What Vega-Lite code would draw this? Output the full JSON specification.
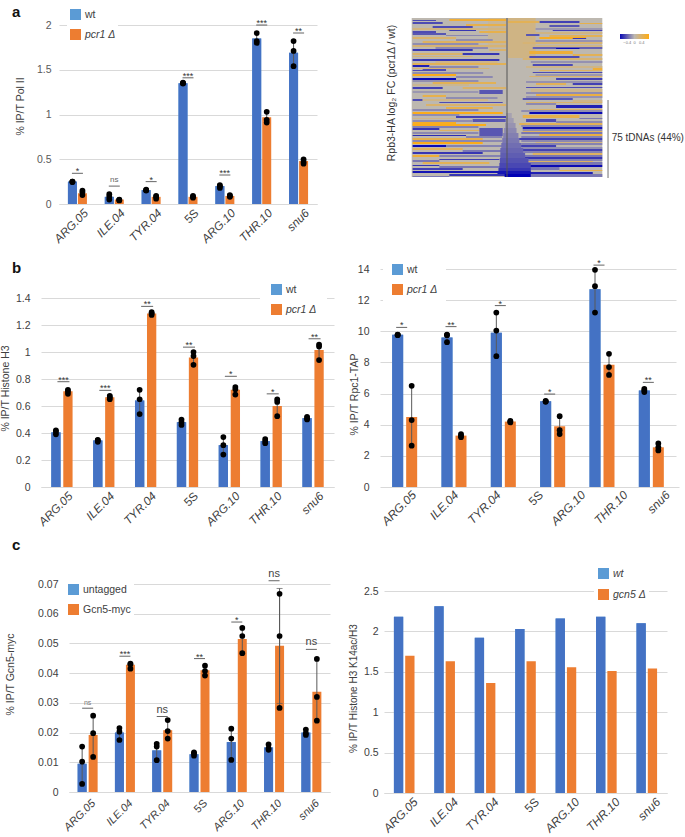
{"$schema":"https://vega.github.io/schema/vega-lite/v6.json","padding":{"left":0,"top":5,"right":0,"bottom":0},"background":"white","config":{"font":"Liberation Sans","view":{"stroke":null}},"columns":2,"align":"each","bounds":"flush","spacing":{"row":60,"column":46},"resolve":{"scale":{"color":"independent"},"legend":{"color":"independent"}},
"datasets":{
"aB":[{"s":"ARG.05","g":"wt","v":0.25},{"s":"ILE.04","g":"wt","v":0.08},{"s":"TYR.04","g":"wt","v":0.155},{"s":"5S","g":"wt","v":1.35},{"s":"ARG.10","g":"wt","v":0.2},{"s":"THR.10","g":"wt","v":1.85},{"s":"snu6","g":"wt","v":1.69},{"s":"ARG.05","g":"pcr1 Δ","v":0.12},{"s":"ILE.04","g":"pcr1 Δ","v":0.05},{"s":"TYR.04","g":"pcr1 Δ","v":0.08},{"s":"5S","g":"pcr1 Δ","v":0.08},{"s":"ARG.10","g":"pcr1 Δ","v":0.09},{"s":"THR.10","g":"pcr1 Δ","v":0.97},{"s":"snu6","g":"pcr1 Δ","v":0.48}],
"aD":[{"s":"ARG.05","g":"wt","v":0.245},{"s":"ARG.05","g":"wt","v":0.25},{"s":"ARG.05","g":"wt","v":0.25},{"s":"ILE.04","g":"wt","v":0.05},{"s":"ILE.04","g":"wt","v":0.08},{"s":"ILE.04","g":"wt","v":0.11},{"s":"TYR.04","g":"wt","v":0.15},{"s":"TYR.04","g":"wt","v":0.155},{"s":"TYR.04","g":"wt","v":0.16},{"s":"5S","g":"wt","v":1.345},{"s":"5S","g":"wt","v":1.35},{"s":"5S","g":"wt","v":1.355},{"s":"ARG.10","g":"wt","v":0.18},{"s":"ARG.10","g":"wt","v":0.2},{"s":"ARG.10","g":"wt","v":0.21},{"s":"THR.10","g":"wt","v":1.8},{"s":"THR.10","g":"wt","v":1.82},{"s":"THR.10","g":"wt","v":1.91},{"s":"snu6","g":"wt","v":1.54},{"s":"snu6","g":"wt","v":1.71},{"s":"snu6","g":"wt","v":1.82},{"s":"ARG.05","g":"pcr1 Δ","v":0.1},{"s":"ARG.05","g":"pcr1 Δ","v":0.13},{"s":"ARG.05","g":"pcr1 Δ","v":0.15},{"s":"ILE.04","g":"pcr1 Δ","v":0.04},{"s":"ILE.04","g":"pcr1 Δ","v":0.045},{"s":"ILE.04","g":"pcr1 Δ","v":0.05},{"s":"TYR.04","g":"pcr1 Δ","v":0.06},{"s":"TYR.04","g":"pcr1 Δ","v":0.08},{"s":"TYR.04","g":"pcr1 Δ","v":0.09},{"s":"5S","g":"pcr1 Δ","v":0.07},{"s":"5S","g":"pcr1 Δ","v":0.08},{"s":"5S","g":"pcr1 Δ","v":0.09},{"s":"ARG.10","g":"pcr1 Δ","v":0.08},{"s":"ARG.10","g":"pcr1 Δ","v":0.09},{"s":"ARG.10","g":"pcr1 Δ","v":0.1},{"s":"THR.10","g":"pcr1 Δ","v":0.91},{"s":"THR.10","g":"pcr1 Δ","v":0.94},{"s":"THR.10","g":"pcr1 Δ","v":1.03},{"s":"snu6","g":"pcr1 Δ","v":0.45},{"s":"snu6","g":"pcr1 Δ","v":0.47},{"s":"snu6","g":"pcr1 Δ","v":0.5}],
"aS":[{"s":"ARG.05","v":0.343,"t":"*"},{"s":"ILE.04","v":0.2,"t":"ns"},{"s":"TYR.04","v":0.25,"t":"*"},{"s":"5S","v":1.41,"t":"***"},{"s":"ARG.10","v":0.324,"t":"***"},{"s":"THR.10","v":2.0,"t":"***"},{"s":"snu6","v":1.91,"t":"**"}],
"bB":[{"s":"ARG.05","g":"wt","v":0.405},{"s":"ILE.04","g":"wt","v":0.345},{"s":"TYR.04","g":"wt","v":0.64},{"s":"5S","g":"wt","v":0.48},{"s":"ARG.10","g":"wt","v":0.31},{"s":"THR.10","g":"wt","v":0.34},{"s":"snu6","g":"wt","v":0.51},{"s":"ARG.05","g":"pcr1 Δ","v":0.71},{"s":"ILE.04","g":"pcr1 Δ","v":0.665},{"s":"TYR.04","g":"pcr1 Δ","v":1.285},{"s":"5S","g":"pcr1 Δ","v":0.96},{"s":"ARG.10","g":"pcr1 Δ","v":0.72},{"s":"THR.10","g":"pcr1 Δ","v":0.6},{"s":"snu6","g":"pcr1 Δ","v":1.015}],
"bD":[{"s":"ARG.05","g":"wt","v":0.39},{"s":"ARG.05","g":"wt","v":0.41},{"s":"ARG.05","g":"wt","v":0.42},{"s":"ILE.04","g":"wt","v":0.335},{"s":"ILE.04","g":"wt","v":0.345},{"s":"ILE.04","g":"wt","v":0.35},{"s":"TYR.04","g":"wt","v":0.54},{"s":"TYR.04","g":"wt","v":0.65},{"s":"TYR.04","g":"wt","v":0.72},{"s":"5S","g":"wt","v":0.46},{"s":"5S","g":"wt","v":0.48},{"s":"5S","g":"wt","v":0.5},{"s":"ARG.10","g":"wt","v":0.24},{"s":"ARG.10","g":"wt","v":0.31},{"s":"ARG.10","g":"wt","v":0.37},{"s":"THR.10","g":"wt","v":0.325},{"s":"THR.10","g":"wt","v":0.34},{"s":"THR.10","g":"wt","v":0.355},{"s":"snu6","g":"wt","v":0.5},{"s":"snu6","g":"wt","v":0.51},{"s":"snu6","g":"wt","v":0.52},{"s":"ARG.05","g":"pcr1 Δ","v":0.69},{"s":"ARG.05","g":"pcr1 Δ","v":0.71},{"s":"ARG.05","g":"pcr1 Δ","v":0.72},{"s":"ILE.04","g":"pcr1 Δ","v":0.65},{"s":"ILE.04","g":"pcr1 Δ","v":0.665},{"s":"ILE.04","g":"pcr1 Δ","v":0.675},{"s":"TYR.04","g":"pcr1 Δ","v":1.275},{"s":"TYR.04","g":"pcr1 Δ","v":1.285},{"s":"TYR.04","g":"pcr1 Δ","v":1.295},{"s":"5S","g":"pcr1 Δ","v":0.905},{"s":"5S","g":"pcr1 Δ","v":0.97},{"s":"5S","g":"pcr1 Δ","v":1.0},{"s":"ARG.10","g":"pcr1 Δ","v":0.685},{"s":"ARG.10","g":"pcr1 Δ","v":0.725},{"s":"ARG.10","g":"pcr1 Δ","v":0.74},{"s":"THR.10","g":"pcr1 Δ","v":0.525},{"s":"THR.10","g":"pcr1 Δ","v":0.63},{"s":"THR.10","g":"pcr1 Δ","v":0.65},{"s":"snu6","g":"pcr1 Δ","v":0.94},{"s":"snu6","g":"pcr1 Δ","v":1.04},{"s":"snu6","g":"pcr1 Δ","v":1.055}],
"bS":[{"s":"ARG.05","v":0.78,"t":"***"},{"s":"ILE.04","v":0.716,"t":"***"},{"s":"TYR.04","v":1.338,"t":"**"},{"s":"5S","v":1.036,"t":"**"},{"s":"ARG.10","v":0.82,"t":"*"},{"s":"THR.10","v":0.69,"t":"*"},{"s":"snu6","v":1.098,"t":"**"}],
"rB":[{"s":"ARG.05","g":"wt","v":9.77},{"s":"ILE.04","g":"wt","v":9.6},{"s":"TYR.04","g":"wt","v":9.9},{"s":"ARG.10","g":"wt","v":5.5},{"s":"THR.10","g":"wt","v":12.7},{"s":"snu6","g":"wt","v":6.2},{"s":"ARG.05","g":"pcr1 Δ","v":4.5},{"s":"ILE.04","g":"pcr1 Δ","v":3.3},{"s":"TYR.04","g":"pcr1 Δ","v":4.2},{"s":"ARG.10","g":"pcr1 Δ","v":3.9},{"s":"THR.10","g":"pcr1 Δ","v":7.85},{"s":"snu6","g":"pcr1 Δ","v":2.55}],
"rD":[{"s":"ARG.05","g":"wt","v":9.75},{"s":"ARG.05","g":"wt","v":9.77},{"s":"ARG.05","g":"wt","v":9.79},{"s":"ILE.04","g":"wt","v":9.3},{"s":"ILE.04","g":"wt","v":9.75},{"s":"ILE.04","g":"wt","v":9.78},{"s":"TYR.04","g":"wt","v":8.4},{"s":"TYR.04","g":"wt","v":10.05},{"s":"TYR.04","g":"wt","v":11.2},{"s":"ARG.10","g":"wt","v":5.47},{"s":"ARG.10","g":"wt","v":5.5},{"s":"ARG.10","g":"wt","v":5.53},{"s":"THR.10","g":"wt","v":11.2},{"s":"THR.10","g":"wt","v":12.9},{"s":"THR.10","g":"wt","v":13.95},{"s":"snu6","g":"wt","v":6.1},{"s":"snu6","g":"wt","v":6.2},{"s":"snu6","g":"wt","v":6.3},{"s":"ARG.05","g":"pcr1 Δ","v":2.65},{"s":"ARG.05","g":"pcr1 Δ","v":4.3},{"s":"ARG.05","g":"pcr1 Δ","v":6.5},{"s":"ILE.04","g":"pcr1 Δ","v":3.2},{"s":"ILE.04","g":"pcr1 Δ","v":3.3},{"s":"ILE.04","g":"pcr1 Δ","v":3.4},{"s":"TYR.04","g":"pcr1 Δ","v":4.15},{"s":"TYR.04","g":"pcr1 Δ","v":4.2},{"s":"TYR.04","g":"pcr1 Δ","v":4.25},{"s":"ARG.10","g":"pcr1 Δ","v":3.4},{"s":"ARG.10","g":"pcr1 Δ","v":3.65},{"s":"ARG.10","g":"pcr1 Δ","v":4.55},{"s":"THR.10","g":"pcr1 Δ","v":7.2},{"s":"THR.10","g":"pcr1 Δ","v":7.7},{"s":"THR.10","g":"pcr1 Δ","v":8.55},{"s":"snu6","g":"pcr1 Δ","v":2.35},{"s":"snu6","g":"pcr1 Δ","v":2.55},{"s":"snu6","g":"pcr1 Δ","v":2.8}],
"rS":[{"s":"ARG.05","v":10.25,"t":"*"},{"s":"ILE.04","v":10.3,"t":"**"},{"s":"TYR.04","v":11.65,"t":"*"},{"s":"ARG.10","v":5.97,"t":"*"},{"s":"THR.10","v":14.25,"t":"*"},{"s":"snu6","v":6.72,"t":"**"}],
"rL":[{"s":"ARG.05"},{"s":"ILE.04"},{"s":"TYR.04"},{"s":"5S"},{"s":"ARG.10"},{"s":"THR.10"},{"s":"snu6"}],
"cB":[{"s":"ARG.05","g":"untagged","v":0.0095},{"s":"ILE.04","g":"untagged","v":0.02},{"s":"TYR.04","g":"untagged","v":0.014},{"s":"5S","g":"untagged","v":0.0127},{"s":"ARG.10","g":"untagged","v":0.0168},{"s":"THR.10","g":"untagged","v":0.015},{"s":"snu6","g":"untagged","v":0.02},{"s":"ARG.05","g":"Gcn5-myc","v":0.0192},{"s":"ILE.04","g":"Gcn5-myc","v":0.0428},{"s":"TYR.04","g":"Gcn5-myc","v":0.0208},{"s":"5S","g":"Gcn5-myc","v":0.041},{"s":"ARG.10","g":"Gcn5-myc","v":0.0515},{"s":"THR.10","g":"Gcn5-myc","v":0.0492},{"s":"snu6","g":"Gcn5-myc","v":0.0337}],
"cD":[{"s":"ARG.05","g":"untagged","v":0.0027},{"s":"ARG.05","g":"untagged","v":0.0102},{"s":"ARG.05","g":"untagged","v":0.0153},{"s":"ILE.04","g":"untagged","v":0.0175},{"s":"ILE.04","g":"untagged","v":0.0203},{"s":"ILE.04","g":"untagged","v":0.0215},{"s":"TYR.04","g":"untagged","v":0.0107},{"s":"TYR.04","g":"untagged","v":0.0153},{"s":"TYR.04","g":"untagged","v":0.0162},{"s":"5S","g":"untagged","v":0.0122},{"s":"5S","g":"untagged","v":0.013},{"s":"5S","g":"untagged","v":0.0133},{"s":"ARG.10","g":"untagged","v":0.0108},{"s":"ARG.10","g":"untagged","v":0.018},{"s":"ARG.10","g":"untagged","v":0.0213},{"s":"THR.10","g":"untagged","v":0.0142},{"s":"THR.10","g":"untagged","v":0.0147},{"s":"THR.10","g":"untagged","v":0.016},{"s":"snu6","g":"untagged","v":0.0192},{"s":"snu6","g":"untagged","v":0.0198},{"s":"snu6","g":"untagged","v":0.021},{"s":"ARG.05","g":"Gcn5-myc","v":0.0118},{"s":"ARG.05","g":"Gcn5-myc","v":0.0198},{"s":"ARG.05","g":"Gcn5-myc","v":0.0257},{"s":"ILE.04","g":"Gcn5-myc","v":0.0415},{"s":"ILE.04","g":"Gcn5-myc","v":0.043},{"s":"ILE.04","g":"Gcn5-myc","v":0.0432},{"s":"TYR.04","g":"Gcn5-myc","v":0.018},{"s":"TYR.04","g":"Gcn5-myc","v":0.0205},{"s":"TYR.04","g":"Gcn5-myc","v":0.0242},{"s":"5S","g":"Gcn5-myc","v":0.0392},{"s":"5S","g":"Gcn5-myc","v":0.0407},{"s":"5S","g":"Gcn5-myc","v":0.0425},{"s":"ARG.10","g":"Gcn5-myc","v":0.0467},{"s":"ARG.10","g":"Gcn5-myc","v":0.0525},{"s":"ARG.10","g":"Gcn5-myc","v":0.0552},{"s":"THR.10","g":"Gcn5-myc","v":0.0283},{"s":"THR.10","g":"Gcn5-myc","v":0.0525},{"s":"THR.10","g":"Gcn5-myc","v":0.0667},{"s":"snu6","g":"Gcn5-myc","v":0.024},{"s":"snu6","g":"Gcn5-myc","v":0.032},{"s":"snu6","g":"Gcn5-myc","v":0.0448}],
"cS":[{"s":"ARG.05","v":0.0282,"t":"ns"},{"s":"ILE.04","v":0.0457,"t":"***"},{"s":"TYR.04","v":0.0254,"t":"ns"},{"s":"5S","v":0.0449,"t":"**"},{"s":"ARG.10","v":0.0572,"t":"*"},{"s":"THR.10","v":0.0711,"t":"ns"},{"s":"snu6","v":0.048,"t":"ns"}],
"cE":[{"s":"THR.10","lo":0.0298,"hi":0.0685}],
"dB":[{"s":"ARG.05","g":"wt","v":2.18},{"s":"ILE.04","g":"wt","v":2.31},{"s":"TYR.04","g":"wt","v":1.92},{"s":"5S","g":"wt","v":2.03},{"s":"ARG.10","g":"wt","v":2.16},{"s":"THR.10","g":"wt","v":2.18},{"s":"snu6","g":"wt","v":2.1},{"s":"ARG.05","g":"gcn5 Δ","v":1.7},{"s":"ILE.04","g":"gcn5 Δ","v":1.63},{"s":"TYR.04","g":"gcn5 Δ","v":1.36},{"s":"5S","g":"gcn5 Δ","v":1.63},{"s":"ARG.10","g":"gcn5 Δ","v":1.555},{"s":"THR.10","g":"gcn5 Δ","v":1.51},{"s":"snu6","g":"gcn5 Δ","v":1.54}],
"heat":[{"r":0,"e":159,"a":-200,"b":200,"v":0},
{"r":0,"e":40,"a":2,"b":60,"v":0.22},{"r":0,"e":30,"a":-40,"b":-2,"v":0.12},
{"r":1,"e":3,"a":-121,"b":-2,"v":0.6},{"r":2,"e":3,"a":-198,"b":-149,"v":-0.5},{"r":4,"e":6,"a":-198,"b":-135,"v":-0.5},{"r":6,"e":8,"a":-86,"b":-2,"v":0.5},{"r":8,"e":10,"a":-156,"b":-72,"v":-0.5},{"r":10,"e":12,"a":-198,"b":-2,"v":0.25},{"r":12,"e":13,"a":-121,"b":-65,"v":-0.6},{"r":13,"e":15,"a":-198,"b":-149,"v":-0.5},{"r":13,"e":15,"a":-58,"b":-2,"v":0.5},{"r":15,"e":17,"a":-198,"b":-128,"v":-0.45},{"r":17,"e":18,"a":-128,"b":-40,"v":-0.22},{"r":19,"e":21,"a":-198,"b":-107,"v":0.35},{"r":21,"e":23,"a":-107,"b":-30,"v":-0.2},{"r":23,"e":25,"a":-177,"b":-2,"v":0.4},{"r":25,"e":27,"a":-198,"b":-60,"v":-0.2},{"r":27,"e":29,"a":-198,"b":-2,"v":0.3},{"r":29,"e":31,"a":-150,"b":-40,"v":-0.22},{"r":31,"e":33,"a":-198,"b":-72,"v":-0.6},{"r":31,"e":33,"a":-37,"b":-2,"v":0.35},{"r":35,"e":37,"a":-198,"b":-93,"v":0.35},{"r":35,"e":37,"a":-93,"b":-16,"v":-0.6},{"r":38,"e":39,"a":-198,"b":-72,"v":0.3},{"r":41,"e":43,"a":-198,"b":-16,"v":-0.6},{"r":43,"e":45,"a":-150,"b":-20,"v":0.2},{"r":45,"e":47,"a":-198,"b":-2,"v":0.45},{"r":47,"e":49,"a":-198,"b":-163,"v":-0.7},{"r":48,"e":50,"a":-163,"b":-60,"v":-0.22},{"r":50,"e":51,"a":-198,"b":-37,"v":0.3},{"r":51,"e":53,"a":-177,"b":-128,"v":-0.5},
{"r":3,"e":5,"a":68,"b":152,"v":-0.55},{"r":3,"e":5,"a":2,"b":68,"v":0.45},{"r":5,"e":6,"a":152,"b":200,"v":0.5},{"r":7,"e":9,"a":89,"b":152,"v":-0.45},{"r":10,"e":12,"a":60,"b":200,"v":-0.15},{"r":12,"e":13,"a":96,"b":200,"v":-0.55},{"r":14,"e":16,"a":60,"b":200,"v":0.22},{"r":16,"e":18,"a":40,"b":68,"v":-0.45},{"r":17,"e":19,"a":89,"b":200,"v":0.45},{"r":19,"e":21,"a":68,"b":166,"v":0.7},{"r":20,"e":21,"a":138,"b":166,"v":-0.6},{"r":22,"e":24,"a":60,"b":200,"v":-0.18},{"r":24,"e":26,"a":33,"b":200,"v":0.3},{"r":27,"e":29,"a":60,"b":200,"v":0.2},{"r":29,"e":31,"a":54,"b":200,"v":-0.4},{"r":30,"e":31,"a":103,"b":152,"v":-0.8},{"r":33,"e":36,"a":47,"b":138,"v":0.6},{"r":36,"e":38,"a":138,"b":200,"v":0.45},{"r":38,"e":40,"a":47,"b":152,"v":-0.5},{"r":40,"e":42,"a":33,"b":200,"v":0.3},{"r":43,"e":45,"a":50,"b":200,"v":-0.18},{"r":46,"e":48,"a":54,"b":138,"v":-0.5},{"r":48,"e":50,"a":40,"b":200,"v":0.2},{"r":50,"e":52,"a":180,"b":200,"v":0.6},
{"r":52,"e":53,"a":-198,"b":-128,"v":-0.5},{"r":54,"e":56,"a":-198,"b":-50,"v":-0.2},{"r":56,"e":58,"a":-198,"b":-107,"v":0.75},{"r":58,"e":60,"a":-107,"b":-30,"v":-0.22},{"r":60,"e":62,"a":-198,"b":-107,"v":-0.8},{"r":62,"e":64,"a":-198,"b":-60,"v":-0.2},{"r":64,"e":66,"a":-156,"b":-23,"v":0.45},{"r":66,"e":68,"a":-198,"b":-80,"v":0.15},{"r":69,"e":71,"a":-198,"b":-135,"v":-0.55},{"r":69,"e":71,"a":-93,"b":-2,"v":0.35},{"r":72,"e":76,"a":-58,"b":-9,"v":-0.45},{"r":73,"e":75,"a":-198,"b":-60,"v":-0.15},{"r":77,"e":79,"a":-177,"b":-128,"v":0.5},{"r":79,"e":81,"a":-128,"b":-20,"v":-0.2},{"r":81,"e":83,"a":-198,"b":-177,"v":-0.5},{"r":81,"e":83,"a":-177,"b":-40,"v":0.2},{"r":84,"e":85,"a":-142,"b":-9,"v":-0.5},{"r":86,"e":88,"a":-170,"b":-2,"v":0.35},{"r":89,"e":91,"a":-128,"b":-30,"v":0.5},{"r":91,"e":93,"a":-198,"b":-60,"v":-0.22},{"r":94,"e":96,"a":-198,"b":-9,"v":0.75},{"r":96,"e":98,"a":-198,"b":-100,"v":-0.2},{"r":98,"e":100,"a":-107,"b":-2,"v":-0.55},{"r":100,"e":101,"a":-198,"b":-107,"v":0.2},{"r":101,"e":104,"a":-72,"b":-2,"v":-0.45},{"r":102,"e":104,"a":-198,"b":-72,"v":-0.2},{"r":104,"e":107,"a":-198,"b":-107,"v":0.7},
{"r":52,"e":53,"a":68,"b":200,"v":0.4},{"r":54,"e":55,"a":54,"b":200,"v":-0.5},{"r":56,"e":58,"a":60,"b":200,"v":-0.15},{"r":58,"e":59,"a":47,"b":200,"v":0.35},{"r":60,"e":62,"a":103,"b":200,"v":-0.55},{"r":63,"e":65,"a":40,"b":200,"v":-0.18},{"r":65,"e":67,"a":61,"b":124,"v":0.45},{"r":65,"e":67,"a":138,"b":200,"v":-0.55},{"r":69,"e":70,"a":40,"b":200,"v":-0.5},{"r":71,"e":74,"a":50,"b":200,"v":0.18},{"r":74,"e":76,"a":40,"b":200,"v":-0.2},{"r":76,"e":78,"a":61,"b":200,"v":0.55},{"r":78,"e":80,"a":40,"b":200,"v":-0.18},{"r":80,"e":82,"a":33,"b":138,"v":-0.45},{"r":82,"e":84,"a":138,"b":200,"v":0.2},{"r":84,"e":85,"a":40,"b":200,"v":0.35},{"r":85,"e":87,"a":40,"b":103,"v":-0.22},{"r":87,"e":90,"a":103,"b":200,"v":-0.7},{"r":91,"e":92,"a":47,"b":200,"v":0.35},{"r":92,"e":94,"a":30,"b":200,"v":-0.2},{"r":94,"e":96,"a":47,"b":200,"v":-0.8},{"r":97,"e":100,"a":33,"b":152,"v":0.5},{"r":100,"e":101,"a":152,"b":200,"v":-0.3},{"r":101,"e":104,"a":40,"b":103,"v":-0.5},{"r":103,"e":105,"a":103,"b":200,"v":-0.22},{"r":105,"e":107,"a":26,"b":200,"v":0.45},
{"r":106,"e":108,"a":-198,"b":-44,"v":0.75},{"r":108,"e":110,"a":-198,"b":-60,"v":-0.25},{"r":110,"e":112,"a":-198,"b":-142,"v":-0.6},{"r":112,"e":113,"a":-142,"b":-9,"v":0.4},{"r":110,"e":118,"a":-58,"b":-9,"v":-0.45},{"r":114,"e":116,"a":-198,"b":-60,"v":-0.22},{"r":117,"e":118,"a":-198,"b":-86,"v":-0.65},{"r":118,"e":120,"a":-86,"b":-10,"v":-0.25},{"r":120,"e":122,"a":-198,"b":-51,"v":0.5},{"r":122,"e":124,"a":-198,"b":-10,"v":-0.22},{"r":124,"e":126,"a":-198,"b":-51,"v":0.75},{"r":127,"e":129,"a":-198,"b":-128,"v":-0.8},{"r":127,"e":129,"a":-128,"b":-10,"v":-0.25},{"r":130,"e":132,"a":-198,"b":-93,"v":0.4},{"r":132,"e":134,"a":-93,"b":-10,"v":-0.3},{"r":134,"e":136,"a":-198,"b":-51,"v":-0.6},{"r":137,"e":139,"a":-198,"b":-142,"v":0.6},{"r":137,"e":139,"a":-142,"b":-10,"v":-0.25},{"r":141,"e":142,"a":-142,"b":-16,"v":-0.55},{"r":142,"e":144,"a":-198,"b":-142,"v":-0.3},{"r":144,"e":146,"a":-177,"b":-37,"v":0.45},{"r":147,"e":148,"a":-198,"b":-142,"v":-0.6},{"r":148,"e":150,"a":-142,"b":-10,"v":-0.3},{"r":150,"e":152,"a":-198,"b":-93,"v":-0.55},{"r":153,"e":155,"a":-198,"b":-16,"v":-0.75},{"r":156,"e":158,"a":-121,"b":-2,"v":-0.6},{"r":158,"e":159,"a":-198,"b":-121,"v":-0.3},
{"r":107,"e":109,"a":30,"b":200,"v":-0.22},{"r":109,"e":111,"a":33,"b":200,"v":-0.75},{"r":111,"e":113,"a":33,"b":200,"v":-0.2},{"r":113,"e":114,"a":33,"b":200,"v":0.4},{"r":114,"e":116,"a":30,"b":200,"v":-0.3},{"r":116,"e":118,"a":68,"b":200,"v":0.55},{"r":118,"e":120,"a":30,"b":200,"v":-0.25},{"r":120,"e":122,"a":12,"b":200,"v":-0.55},{"r":122,"e":124,"a":30,"b":200,"v":-0.22},{"r":124,"e":125,"a":60,"b":200,"v":0.25},{"r":125,"e":127,"a":30,"b":200,"v":-0.25},{"r":127,"e":129,"a":12,"b":103,"v":-0.55},{"r":129,"e":131,"a":30,"b":200,"v":-0.2},{"r":131,"e":133,"a":12,"b":200,"v":-0.55},{"r":133,"e":135,"a":30,"b":200,"v":-0.25},{"r":135,"e":137,"a":54,"b":200,"v":0.4},{"r":137,"e":139,"a":30,"b":200,"v":-0.3},{"r":139,"e":141,"a":12,"b":200,"v":-0.6},{"r":141,"e":143,"a":30,"b":200,"v":-0.25},{"r":143,"e":144,"a":40,"b":180,"v":0.4},{"r":144,"e":147,"a":30,"b":200,"v":-0.3},{"r":147,"e":149,"a":5,"b":200,"v":-0.8},{"r":149,"e":152,"a":30,"b":110,"v":-0.3},{"r":152,"e":153,"a":110,"b":200,"v":0.5},{"r":154,"e":156,"a":5,"b":180,"v":-0.7},{"r":156,"e":159,"a":50,"b":200,"v":-0.3},
{"r":95,"e":100,"a":-2,"b":10,"v":-0.1},{"r":100,"e":105,"a":-3,"b":14,"v":-0.13},{"r":105,"e":110,"a":-4,"b":18,"v":-0.17},{"r":110,"e":115,"a":-6,"b":20,"v":-0.22},{"r":115,"e":120,"a":-8,"b":24,"v":-0.26},{"r":120,"e":125,"a":-10,"b":26,"v":-0.3},{"r":125,"e":130,"a":-12,"b":30,"v":-0.34},{"r":130,"e":135,"a":-14,"b":34,"v":-0.38},{"r":135,"e":140,"a":-14,"b":38,"v":-0.42},{"r":140,"e":145,"a":-15,"b":45,"v":-0.47},{"r":145,"e":150,"a":-16,"b":50,"v":-0.52},{"r":150,"e":153,"a":-18,"b":50,"v":-0.6},{"r":153,"e":156,"a":-20,"b":50,"v":-0.75},{"r":156,"e":159,"a":-5,"b":50,"v":-1.0}],
"heatV":[{"p":0,"r":0,"e":159}],"heatB":[{"p":212,"r":82,"e":160}],"heatT":[{"p":219.7,"r":120,"t":"75 tDNAs (44%)"}],"heatY":[{"p":-241,"r":75,"t":"Rpb3-HA log₂ FC (pcr1Δ / wt)"}]
},
"concat":[
{"width":293,"height":186,"title":{"text":"a","anchor":"start","frame":"group","fontSize":15,"fontWeight":"bold","color":"#111","offset":0,"dx":-29,"dy":14},
"encoding":{"x":{"field":"s","type":"nominal","title":null,"scale":{"domain":["ARG.05","ILE.04","TYR.04","5S","ARG.10","THR.10","snu6"],"range":[18,276],"paddingInner":0,"paddingOuter":0},"axis":{"labelAngle":-45,"labelFontSize":11.8,"labelColor":"#404040","labelFontStyle":{"condition":{"test":"datum.value=='5S'","value":"normal"},"value":"italic"},"domainColor":"#d9d9d9","ticks":false,"labelPadding":3,"labelOffset":5}},
"y":{"field":"v","type":"quantitative","stack":null,"scale":{"domain":[0,2],"range":[186,7],"nice":false,"zero":false},"axis":{"values":[0,0.5,1,1.5,2],"format":"~g","title":"% IP/T Pol II","titleFontSize":10.5,"titleFontWeight":"normal","titleColor":"#404040","titleX":-34,"titleY":88,"labelFontSize":10.5,"labelColor":"#595959","labelPadding":8,"offset":-18,"grid":true,"gridColor":"#d9d9d9","gridWidth":1.2,"ticks":false,"domain":false}}},
"layer":[
{"data":{"name":"aB"},"transform":[{"filter":"datum.g=='wt'"}],"mark":{"type":"bar","width":9,"xOffset":-5},"encoding":{"color":{"field":"g","type":"nominal","scale":{"domain":["wt","pcr1 Δ"],"range":["#5B9BD5","#ED7D31"]},"legend":{"title":null,"orient":"none","legendX":26,"legendY":-12,"symbolType":"square","symbolSize":121,"fillColor":"white","padding":2,"rowPadding":8,"labelFontSize":10.5,"labelColor":"#404040","labelOffset":3,"labelExpr":"datum.label+'         '","encoding":{"labels":{"fontStyle":{"condition":{"test":"datum.value=='wt'","value":"normal"},"value":"italic"}}}}}}},
{"data":{"name":"aB"},"transform":[{"filter":"datum.g=='wt'"}],"mark":{"type":"bar","width":9,"xOffset":-5,"color":"#4472C4"}},
{"data":{"name":"aB"},"transform":[{"filter":"datum.g!='wt'"}],"mark":{"type":"bar","width":9,"xOffset":5,"color":"#ED7D31"}},
{"data":{"name":"aD"},"transform":[{"filter":"datum.g=='wt'"}],"mark":{"type":"rule","color":"#595959","xOffset":-5},"encoding":{"y":{"aggregate":"min","field":"v","type":"quantitative"},"y2":{"aggregate":"max","field":"v"}}},
{"data":{"name":"aD"},"transform":[{"filter":"datum.g!='wt'"}],"mark":{"type":"rule","color":"#595959","xOffset":5},"encoding":{"y":{"aggregate":"min","field":"v","type":"quantitative"},"y2":{"aggregate":"max","field":"v"}}},
{"data":{"name":"aD"},"transform":[{"filter":"datum.g=='wt'"}],"mark":{"type":"point","filled":true,"color":"#000","size":33,"opacity":1,"xOffset":-5}},
{"data":{"name":"aD"},"transform":[{"filter":"datum.g!='wt'"}],"mark":{"type":"point","filled":true,"color":"#000","size":33,"opacity":1,"xOffset":5}},
{"data":{"name":"aS"},"mark":{"type":"tick","orient":"horizontal","size":11,"thickness":1,"color":"#222"}},
{"data":{"name":"aS"},"transform":[{"filter":"datum.t!='ns'"}],"mark":{"type":"text","fontSize":9,"dy":-2,"color":"#333"},"encoding":{"text":{"field":"t"}}},
{"data":{"name":"aS"},"transform":[{"filter":"datum.t=='ns'"}],"mark":{"type":"text","fontSize":8,"dy":-6,"color":"#666"},"encoding":{"text":{"field":"t"}}}
]},
{"width":296,"height":186,
"layer":[
{"data":{"name":"heat"},"mark":{"type":"rect"},"encoding":{"x":{"field":"a","type":"quantitative","title":"position to tDNA TSS (bp)","scale":{"domain":[-200,200],"range":[31.7,222.3],"nice":false,"zero":false},"axis":{"values":[-200,-100,0,100,200],"offset":-22.5,"domainColor":"#999","domainWidth":1.5,"tickColor":"#999","tickWidth":1,"tickSize":3,"labelFontSize":5.5,"labelColor":"#777","labelPadding":3,"titleFontSize":10,"titleFontWeight":"normal","titleColor":"#333","titlePadding":8,"grid":false}},"x2":{"field":"b"},"y":{"field":"r","type":"quantitative","title":null,"scale":{"domain":[0,159],"range":[0,159],"nice":false,"zero":false},"axis":null},"y2":{"field":"e"},"color":{"field":"v","type":"quantitative","scale":{"domain":[-0.8,0,0.8],"range":["#0a0ab4","#bdb8b0","#ffab10"],"interpolate":"rgb"},"legend":{"title":null,"orient":"none","direction":"horizontal","legendX":240,"legendY":16,"gradientLength":29,"gradientThickness":5,"labelFontSize":4,"labelColor":"#777","values":[-0.4,0,0.4],"format":".1~f","padding":0}}}},
{"data":{"name":"heatV"},"mark":{"type":"rule","color":"#555","strokeWidth":1},"encoding":{"x":{"field":"p","type":"quantitative","axis":null},"y":{"field":"r","type":"quantitative","axis":null},"y2":{"field":"e"}}},
{"data":{"name":"heatB"},"mark":{"type":"rule","color":"#888","strokeWidth":1.2},"encoding":{"x":{"field":"p","type":"quantitative","axis":null},"y":{"field":"r","type":"quantitative","axis":null},"y2":{"field":"e"}}},
{"data":{"name":"heatT"},"mark":{"type":"text","align":"left","fontSize":10,"color":"#333"},"encoding":{"x":{"field":"p","type":"quantitative","axis":null},"y":{"field":"r","type":"quantitative","axis":null},"text":{"field":"t"}}},
{"data":{"name":"heatY"},"mark":{"type":"text","angle":-90,"fontSize":10.5,"color":"#333"},"encoding":{"x":{"field":"p","type":"quantitative","axis":null},"y":{"field":"r","type":"quantitative","axis":null},"text":{"field":"t"}}}
]},
{"width":293,"height":223,"title":{"text":"b","anchor":"start","frame":"group","fontSize":15,"fontWeight":"bold","color":"#111","offset":0,"dx":-29,"dy":12},
"encoding":{"x":{"field":"s","type":"nominal","title":null,"scale":{"domain":["ARG.05","ILE.04","TYR.04","5S","ARG.10","THR.10","snu6"],"range":[0,293],"paddingInner":0,"paddingOuter":0},"axis":{"labelAngle":-45,"labelFontSize":11.8,"labelColor":"#404040","labelFontStyle":{"condition":{"test":"datum.value=='5S'","value":"normal"},"value":"italic"},"domainColor":"#d9d9d9","ticks":false,"labelPadding":3,"labelOffset":5}},
"y":{"field":"v","type":"quantitative","stack":null,"scale":{"domain":[0,1.4],"range":[223,34],"nice":false,"zero":false},"axis":{"values":[0,0.2,0.4,0.6,0.8,1,1.2,1.4],"format":"~g","title":"% IP/T Histone H3","titleFontSize":10.5,"titleFontWeight":"normal","titleColor":"#404040","titleX":-31,"titleY":124,"labelFontSize":10.5,"labelColor":"#404040","labelPadding":11,"grid":true,"gridColor":"#d9d9d9","gridWidth":1.2,"ticks":false,"domain":false}}},
"layer":[
{"data":{"name":"bB"},"transform":[{"filter":"datum.g=='wt'"}],"mark":{"type":"bar","width":9.3,"xOffset":-6},"encoding":{"color":{"field":"g","type":"nominal","scale":{"domain":["wt","pcr1 Δ"],"range":["#5B9BD5","#ED7D31"]},"legend":{"title":null,"orient":"none","legendX":219,"legendY":9,"symbolType":"square","symbolSize":121,"fillColor":"white","padding":10,"rowPadding":8,"labelFontSize":10.5,"labelColor":"#404040","labelOffset":3,"labelExpr":"datum.label+'     '","encoding":{"labels":{"fontStyle":{"condition":{"test":"datum.value=='wt'","value":"normal"},"value":"italic"}}}}}}},
{"data":{"name":"bB"},"transform":[{"filter":"datum.g=='wt'"}],"mark":{"type":"bar","width":9.3,"xOffset":-6,"color":"#4472C4"}},
{"data":{"name":"bB"},"transform":[{"filter":"datum.g!='wt'"}],"mark":{"type":"bar","width":9.3,"xOffset":6,"color":"#ED7D31"}},
{"data":{"name":"bD"},"transform":[{"filter":"datum.g=='wt'"}],"mark":{"type":"rule","color":"#595959","xOffset":-6},"encoding":{"y":{"aggregate":"min","field":"v","type":"quantitative"},"y2":{"aggregate":"max","field":"v"}}},
{"data":{"name":"bD"},"transform":[{"filter":"datum.g!='wt'"}],"mark":{"type":"rule","color":"#595959","xOffset":6},"encoding":{"y":{"aggregate":"min","field":"v","type":"quantitative"},"y2":{"aggregate":"max","field":"v"}}},
{"data":{"name":"bD"},"transform":[{"filter":"datum.g=='wt'"}],"mark":{"type":"point","filled":true,"color":"#000","size":33,"opacity":1,"xOffset":-6}},
{"data":{"name":"bD"},"transform":[{"filter":"datum.g!='wt'"}],"mark":{"type":"point","filled":true,"color":"#000","size":33,"opacity":1,"xOffset":6}},
{"data":{"name":"bS"},"mark":{"type":"tick","orient":"horizontal","size":12,"thickness":1,"color":"#222","xOffset":1.5}},
{"data":{"name":"bS"},"mark":{"type":"text","fontSize":9,"dy":-2,"xOffset":1.5,"color":"#333"},"encoding":{"text":{"field":"t"}}}
]},
{"width":296,"height":223,"resolve":{"scale":{"x":"independent"}},
"encoding":{"y":{"field":"v","type":"quantitative","stack":null,"scale":{"domain":[0,14],"range":[223,5],"nice":false,"zero":false},"axis":{"values":[0,2,4,6,8,10,12,14],"format":"~g","title":"% IP/T Rpc1-TAP","titleFontSize":10.5,"titleFontWeight":"normal","titleColor":"#404040","titleX":-21,"titleY":130,"labelFontSize":10.5,"labelColor":"#404040","labelPadding":11,"grid":true,"gridColor":"#d9d9d9","gridWidth":1.2,"ticks":false,"domain":false}}},
"layer":[
{"layer":[
{"data":{"name":"rB"},"transform":[{"filter":"datum.g=='wt'"}],"mark":{"type":"bar","width":11,"xOffset":-7},"encoding":{"color":{"field":"g","type":"nominal","scale":{"domain":["wt","pcr1 Δ"],"range":["#5B9BD5","#ED7D31"]},"legend":{"title":null,"orient":"none","legendX":3,"legendY":-9,"symbolType":"square","symbolSize":121,"fillColor":"white","padding":8,"rowPadding":8,"labelFontSize":10.5,"labelColor":"#404040","labelOffset":3,"labelExpr":"datum.label+'         '","encoding":{"labels":{"fontStyle":{"condition":{"test":"datum.value=='wt'","value":"normal"},"value":"italic"}}}}}}},
{"data":{"name":"rB"},"transform":[{"filter":"datum.g=='wt'"}],"mark":{"type":"bar","width":11,"xOffset":-7,"color":"#4472C4"}},
{"data":{"name":"rB"},"transform":[{"filter":"datum.g!='wt'"}],"mark":{"type":"bar","width":11,"xOffset":7,"color":"#ED7D31"}},
{"data":{"name":"rD"},"transform":[{"filter":"datum.g=='wt'"}],"mark":{"type":"rule","color":"#595959","xOffset":-7},"encoding":{"y":{"aggregate":"min","field":"v","type":"quantitative"},"y2":{"aggregate":"max","field":"v"}}},
{"data":{"name":"rD"},"transform":[{"filter":"datum.g!='wt'"}],"mark":{"type":"rule","color":"#595959","xOffset":7},"encoding":{"y":{"aggregate":"min","field":"v","type":"quantitative"},"y2":{"aggregate":"max","field":"v"}}},
{"data":{"name":"rD"},"transform":[{"filter":"datum.g=='wt'"}],"mark":{"type":"point","filled":true,"color":"#000","size":33,"opacity":1,"xOffset":-7}},
{"data":{"name":"rD"},"transform":[{"filter":"datum.g!='wt'"}],"mark":{"type":"point","filled":true,"color":"#000","size":33,"opacity":1,"xOffset":7}},
{"data":{"name":"rS"},"mark":{"type":"tick","orient":"horizontal","size":11,"thickness":1,"color":"#222","xOffset":-3}},
{"data":{"name":"rS"},"mark":{"type":"text","fontSize":9,"dy":-2,"xOffset":-3,"color":"#333"},"encoding":{"text":{"field":"t"}}}
],"encoding":{"x":{"field":"s","type":"nominal","title":null,"scale":{"domain":["ARG.05","ILE.04","TYR.04","ARG.10","THR.10","snu6"],"range":[0,296],"paddingInner":0,"paddingOuter":0},"axis":null}}},
{"data":{"name":"rL"},"mark":{"type":"point","opacity":0},"encoding":{"y":null,"x":{"field":"s","type":"nominal","title":null,"scale":{"domain":["ARG.05","ILE.04","TYR.04","5S","ARG.10","THR.10","snu6"],"range":[3,299],"paddingInner":0,"paddingOuter":0},"axis":{"orient":"bottom","labelAngle":-45,"labelFontSize":12,"labelColor":"#404040","labelFontStyle":{"condition":{"test":"datum.value=='5S'","value":"normal"},"value":"italic"},"domainColor":"#d9d9d9","ticks":false,"labelPadding":2,"labelOffset":6}}}}
]},
{"width":293,"height":246,"title":{"text":"c","anchor":"start","frame":"group","fontSize":15,"fontWeight":"bold","color":"#111","offset":0,"dx":-29,"dy":6},
"encoding":{"x":{"field":"s","type":"nominal","title":null,"scale":{"domain":["ARG.05","ILE.04","TYR.04","5S","ARG.10","THR.10","snu6"],"range":[28,289],"paddingInner":0,"paddingOuter":0},"axis":{"labelAngle":-45,"labelFontSize":11,"labelColor":"#404040","labelFontStyle":{"condition":{"test":"datum.value=='5S'","value":"normal"},"value":"italic"},"domainColor":"#d9d9d9","ticks":false,"labelPadding":5,"labelOffset":2,"offset":-1}},
"y":{"field":"v","type":"quantitative","stack":null,"scale":{"domain":[0,0.07],"range":[245,37],"nice":false,"zero":false},"axis":{"values":[0,0.01,0.02,0.03,0.04,0.05,0.06,0.07],"format":"~g","title":"% IP/T Gcn5-myc","titleFontSize":10.5,"titleFontWeight":"normal","titleColor":"#404040","titleX":-54,"titleY":127,"labelFontSize":10.5,"labelColor":"#404040","labelPadding":11,"offset":-28,"grid":true,"gridColor":"#d9d9d9","gridWidth":1.2,"ticks":false,"domain":false}}},
"layer":[
{"data":{"name":"cB"},"transform":[{"filter":"datum.g=='untagged'"}],"mark":{"type":"bar","width":9,"xOffset":-5.5},"encoding":{"color":{"field":"g","type":"nominal","scale":{"domain":["untagged","Gcn5-myc"],"range":["#5B9BD5","#ED7D31"]},"legend":{"title":null,"orient":"none","legendX":23,"legendY":33,"symbolType":"square","symbolSize":121,"fillColor":"white","padding":3,"rowPadding":8,"labelFontSize":10.5,"labelColor":"#404040","labelOffset":3,"labelExpr":"datum.label+'   '"}}}},
{"data":{"name":"cB"},"transform":[{"filter":"datum.g=='untagged'"}],"mark":{"type":"bar","width":9,"xOffset":-5.5,"color":"#4472C4"}},
{"data":{"name":"cB"},"transform":[{"filter":"datum.g!='untagged'"}],"mark":{"type":"bar","width":9,"xOffset":5.5,"color":"#ED7D31"}},
{"data":{"name":"cD"},"transform":[{"filter":"datum.g=='untagged'"}],"mark":{"type":"rule","color":"#595959","xOffset":-5.5},"encoding":{"y":{"aggregate":"min","field":"v","type":"quantitative"},"y2":{"aggregate":"max","field":"v"}}},
{"data":{"name":"cD"},"transform":[{"filter":"datum.g!='untagged'"}],"mark":{"type":"rule","color":"#595959","xOffset":5.5},"encoding":{"y":{"aggregate":"min","field":"v","type":"quantitative"},"y2":{"aggregate":"max","field":"v"}}},
{"data":{"name":"cE"},"mark":{"type":"rule","color":"#595959","xOffset":5.5},"encoding":{"y":{"field":"lo","type":"quantitative"},"y2":{"field":"hi"}}},
{"data":{"name":"cE"},"mark":{"type":"tick","orient":"horizontal","size":6,"thickness":1,"color":"#595959","xOffset":5.5},"encoding":{"y":{"field":"lo","type":"quantitative"}}},
{"data":{"name":"cE"},"mark":{"type":"tick","orient":"horizontal","size":6,"thickness":1,"color":"#595959","xOffset":5.5},"encoding":{"y":{"field":"hi","type":"quantitative"}}},
{"data":{"name":"cD"},"transform":[{"filter":"datum.g=='untagged'"}],"mark":{"type":"point","filled":true,"color":"#000","size":33,"opacity":1,"xOffset":-5.5}},
{"data":{"name":"cD"},"transform":[{"filter":"datum.g!='untagged'"}],"mark":{"type":"point","filled":true,"color":"#000","size":33,"opacity":1,"xOffset":5.5}},
{"data":{"name":"cS"},"mark":{"type":"tick","orient":"horizontal","size":11,"thickness":1,"color":"#222"}},
{"data":{"name":"cS"},"transform":[{"filter":"datum.t!='ns'"}],"mark":{"type":"text","fontSize":9,"dy":-2,"color":"#333"},"encoding":{"text":{"field":"t"}}},
{"data":{"name":"cS"},"transform":[{"filter":"datum.t=='ns' && datum.s=='ARG.05'"}],"mark":{"type":"text","fontSize":7,"dy":-5,"color":"#777"},"encoding":{"text":{"field":"t"}}},
{"data":{"name":"cS"},"transform":[{"filter":"datum.t=='ns' && datum.s!='ARG.05'"}],"mark":{"type":"text","fontSize":11,"dy":-7,"color":"#444"},"encoding":{"text":{"field":"t"}}}
]},
{"width":296,"height":246,
"encoding":{"x":{"field":"s","type":"nominal","title":null,"scale":{"domain":["ARG.05","ILE.04","TYR.04","5S","ARG.10","THR.10","snu6"],"range":[4,287],"paddingInner":0,"paddingOuter":0},"axis":{"labelAngle":-45,"labelFontSize":12,"labelColor":"#404040","labelFontStyle":{"condition":{"test":"datum.value=='5S'","value":"normal"},"value":"italic"},"domainColor":"#d9d9d9","ticks":false,"labelPadding":3,"labelOffset":8}},
"y":{"field":"v","type":"quantitative","stack":null,"scale":{"domain":[0,2.5],"range":[246,44],"nice":false,"zero":false},"axis":{"values":[0,0.5,1,1.5,2,2.5],"format":"~g","title":"% IP/T Histone H3 K14ac/H3","titleFontSize":10,"titleFontWeight":"normal","titleColor":"#404040","titleX":-26,"titleY":141,"labelFontSize":10.5,"labelColor":"#404040","labelPadding":6,"offset":-4,"grid":true,"gridColor":"#d9d9d9","gridWidth":1.2,"ticks":false,"domain":false}}},
"layer":[
{"data":{"name":"dB"},"transform":[{"filter":"datum.g=='wt'"}],"mark":{"type":"bar","width":9.3,"xOffset":-5.65},"encoding":{"color":{"field":"g","type":"nominal","scale":{"domain":["wt","gcn5 Δ"],"range":["#5B9BD5","#ED7D31"]},"legend":{"title":null,"orient":"none","legendX":214,"legendY":17,"symbolType":"square","symbolSize":121,"fillColor":"white","padding":3,"rowPadding":9,"labelFontSize":10.5,"labelColor":"#404040","labelOffset":3,"labelExpr":"datum.label+'       '","encoding":{"labels":{"fontStyle":{"value":"italic"}}}}}}},
{"data":{"name":"dB"},"transform":[{"filter":"datum.g=='wt'"}],"mark":{"type":"bar","width":9.3,"xOffset":-5.65,"color":"#4472C4"}},
{"data":{"name":"dB"},"transform":[{"filter":"datum.g!='wt'"}],"mark":{"type":"bar","width":9.3,"xOffset":5.65,"color":"#ED7D31"}}
]}
]}
